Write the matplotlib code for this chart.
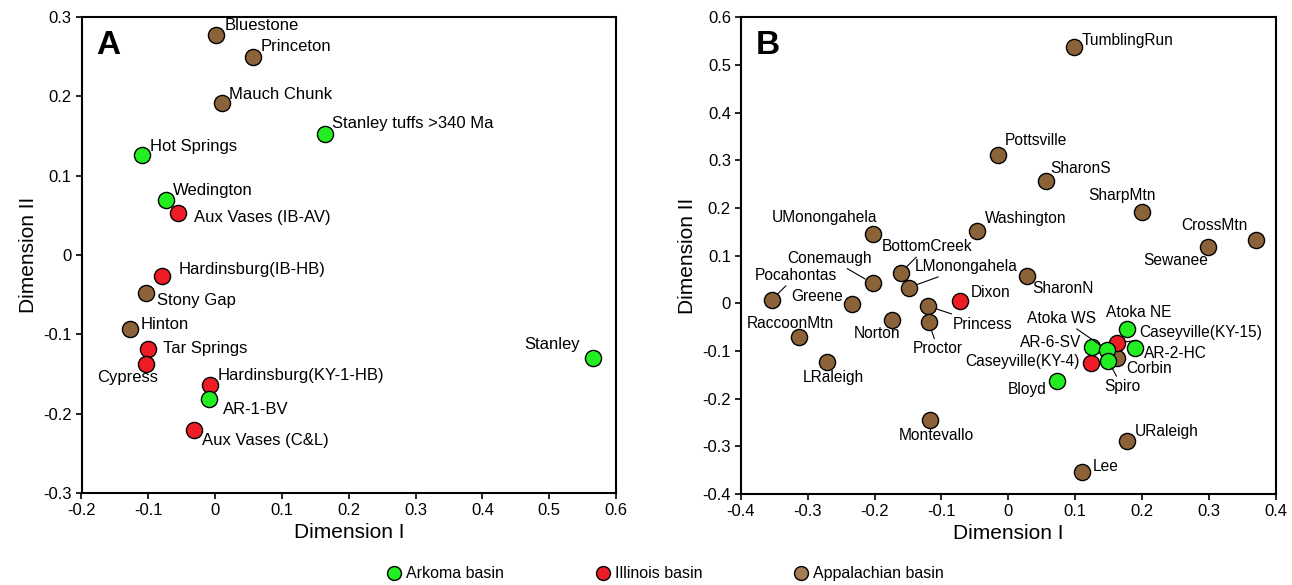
import matplotlib
matplotlib.use("Agg")
import matplotlib.pyplot as plt
from matplotlib.lines import Line2D
from matplotlib.ticker import FuncFormatter, MultipleLocator

plt.rcParams['font.family'] = ['Liberation Sans', 'DejaVu Sans']
plt.rcParams['axes.unicode_minus'] = False

# ---------------- data ----------------
basin_names = ["Arkoma basin", "Illinois basin", "Appalachian basin"]
basin_colors = {"Arkoma basin": "#22EE22", "Illinois basin": "#EE1C25", "Appalachian basin": "#8C6239"}
legend_colors = ["#22EE22", "#EE1C25", "#A57D53"]

# Panel A
a_names = ["Bluestone", "Princeton", "Mauch Chunk", "Stony Gap", "Hinton",
           "Aux Vases (IB-AV)", "Hardinsburg(IB-HB)", "Tar Springs", "Cypress",
           "Hardinsburg(KY-1-HB)", "Aux Vases (C&L)",
           "Stanley tuffs >340 Ma", "Hot Springs", "Wedington", "AR-1-BV", "Stanley"]
a_x = [0.002, 0.056, 0.011, -0.103, -0.128,
       -0.056, -0.079, -0.101, -0.103,
       -0.007, -0.031,
       0.164, -0.110, -0.073, -0.009, 0.566]
a_y = [0.277, 0.250, 0.191, -0.048, -0.093,
       0.053, -0.027, -0.118, -0.137,
       -0.164, -0.221,
       0.153, 0.126, 0.069, -0.182, -0.130]
a_basin = ["Appalachian basin"] * 5 + ["Illinois basin"] * 6 + ["Arkoma basin"] * 5

# Panel B
b_names = ["TumblingRun", "Pottsville", "SharonS", "SharpMtn", "CrossMtn", "Sewanee",
           "Washington", "SharonN", "UMonongahela", "BottomCreek", "LMonongahela",
           "Conemaugh", "Pocahontas", "Greene", "Norton", "Princess", "Proctor",
           "RaccoonMtn", "LRaleigh", "Montevallo", "URaleigh", "Lee", "Corbin",
           "Dixon", "Caseyville(KY-15)", "Caseyville(KY-4)",
           "Atoka NE", "AR-2-HC", "AR-6-SV", "Atoka WS", "Spiro", "Bloyd"]
b_x = [0.098, -0.015, 0.056, 0.200, 0.370, 0.298,
       -0.047, 0.028, -0.202, -0.161, -0.149,
       -0.203, -0.353, -0.234, -0.174, -0.120, -0.119,
       -0.313, -0.271, -0.117, 0.177, 0.110, 0.163,
       -0.073, 0.162, 0.124,
       0.177, 0.190, 0.125, 0.147, 0.149, 0.073]
b_y = [0.538, 0.311, 0.256, 0.191, 0.132, 0.118,
       0.151, 0.057, 0.145, 0.064, 0.033,
       0.042, 0.008, -0.002, -0.034, -0.006, -0.039,
       -0.071, -0.123, -0.244, -0.288, -0.354, -0.115,
       0.005, -0.083, -0.125,
       -0.053, -0.094, -0.092, -0.097, -0.120, -0.164]
b_basin = (["Appalachian basin"] * 23 + ["Illinois basin"] * 3 + ["Arkoma basin"] * 6)

# ---------------- label placement (style only, pixel offsets) ----------------
a_offsets = {
    "Bluestone": (8, 10, 'left'), "Princeton": (8, 10, 'left'),
    "Mauch Chunk": (7, 9, 'left'), "Stanley tuffs >340 Ma": (7, 10, 'left'),
    "Hot Springs": (8, 9, 'left'), "Wedington": (7, 10, 'left'),
    "Aux Vases (IB-AV)": (16, -5, 'left'), "Hardinsburg(IB-HB)": (16, 7, 'left'),
    "Stony Gap": (11, -7, 'left'), "Hinton": (11, 4, 'left'),
    "Tar Springs": (15, 0, 'left'), "Cypress": (-19, -14, 'center'),
    "Hardinsburg(KY-1-HB)": (7, 10, 'left'), "AR-1-BV": (14, -10, 'left'),
    "Aux Vases (C&L)": (8, -10, 'left'), "Stanley": (-13, 14, 'right'),
}
b_offsets = {
    "TumblingRun": (8, 6, 'left'), "Pottsville": (6, 15, 'left'),
    "SharonS": (4, 13, 'left'), "SharpMtn": (-20, 17, 'center'),
    "CrossMtn": (-41, 15, 'center'), "Sewanee": (-32, -13, 'center'),
    "Washington": (8, 13, 'left'), "SharonN": (5, -12, 'left'),
    "UMonongahela": (-49, 17, 'center'), "BottomCreek": (26, 26, 'center'),
    "LMonongahela": (58, 21, 'center'), "Conemaugh": (-43, 25, 'center'),
    "Pocahontas": (24, 24, 'center'), "Greene": (-9, 8, 'right'),
    "Norton": (-15, -14, 'center'), "Princess": (25, -18, 'left'),
    "Proctor": (9, -27, 'center'), "RaccoonMtn": (-9, 14, 'center'),
    "LRaleigh": (6, -16, 'center'), "Montevallo": (6, -16, 'center'),
    "URaleigh": (8, 9, 'left'), "Lee": (11, 6, 'left'),
    "Corbin": (9, -10, 'left'), "Dixon": (11, 8, 'left'),
    "Caseyville(KY-15)": (23, 10, 'left'), "Caseyville(KY-4)": (-12, 1, 'right'),
    "Atoka NE": (12, 16, 'center'), "AR-2-HC": (8, -5, 'left'),
    "AR-6-SV": (-11, 5, 'right'), "Atoka WS": (-45, 31, 'center'),
    "Spiro": (14, -26, 'center'), "Bloyd": (-11, -8, 'right'),
}
b_leaders = {"BottomCreek", "LMonongahela", "Conemaugh", "Pocahontas", "Princess",
             "Proctor", "Atoka WS", "Caseyville(KY-15)", "Spiro"}

W, H = 1292, 585
fig = plt.figure(figsize=(W / 100, H / 100), dpi=100)
axA = fig.add_axes([81.5 / W, 1 - 493 / H, (616 - 81.5) / W, (493 - 17) / H])
axB = fig.add_axes([740.7 / W, 1 - 494 / H, (1276 - 740.7) / W, (494 - 17.3) / H])

fmt = FuncFormatter(lambda v, p: '0' if abs(v) < 1e-9 else f'{v:.1f}')


def draw(ax, names, xs, ys, basins, offsets, leaders, letter, lab_fs):
    for b in ["Appalachian basin", "Illinois basin", "Arkoma basin"]:
        px = [x for x, bb in zip(xs, basins) if bb == b]
        py = [y for y, bb in zip(ys, basins) if bb == b]
        ax.scatter(px, py, s=135, c=basin_colors[b], edgecolors='black',
                   linewidths=1.0, zorder=3)
    for n, x, y in zip(names, xs, ys):
        dx, dy, ha = offsets[n]
        kw = {}
        if n in leaders:
            kw['arrowprops'] = dict(arrowstyle='-', lw=0.8, color='black',
                                    shrinkA=0, shrinkB=6)
        ax.annotate(n, (x, y), xytext=(dx, dy), textcoords='offset pixels',
                    ha=ha, va='center', fontsize=lab_fs, zorder=4, **kw)
    ax.text(0.028, 0.94, letter, transform=ax.transAxes, fontsize=24,
            fontweight='bold', va='center', ha='left')
    ax.set_xlabel("Dimension I", fontsize=15)
    ax.set_ylabel("Dimension II", fontsize=15)
    ax.xaxis.set_major_locator(MultipleLocator(0.1))
    ax.yaxis.set_major_locator(MultipleLocator(0.1))
    ax.xaxis.set_major_formatter(fmt)
    ax.yaxis.set_major_formatter(fmt)
    ax.tick_params(axis='both', direction='out', length=4, width=1.2,
                   labelsize=12, colors='black', pad=3)
    for s in ax.spines.values():
        s.set_linewidth(1.5)


draw(axA, a_names, a_x, a_y, a_basin, a_offsets, set(), "A", 12)
axA.set_xlim(-0.2, 0.6)
axA.set_ylim(-0.3, 0.3)

draw(axB, b_names, b_x, b_y, b_basin, b_offsets, b_leaders, "B", 11.2)
axB.set_xlim(-0.4, 0.4)
axB.set_ylim(-0.4, 0.6)

handles = [Line2D([], [], marker='o', ls='none', markersize=10,
                  markerfacecolor=c, markeredgecolor='black', markeredgewidth=1.0)
           for c in legend_colors]
fig.legend(handles, basin_names, loc='center', bbox_to_anchor=(0.515, 0.019),
           ncol=3, frameon=False, fontsize=11.5, handlelength=0.9,
           handletextpad=0.3, columnspacing=5.75, borderaxespad=0)

fig.savefig("out.png", dpi=100)
